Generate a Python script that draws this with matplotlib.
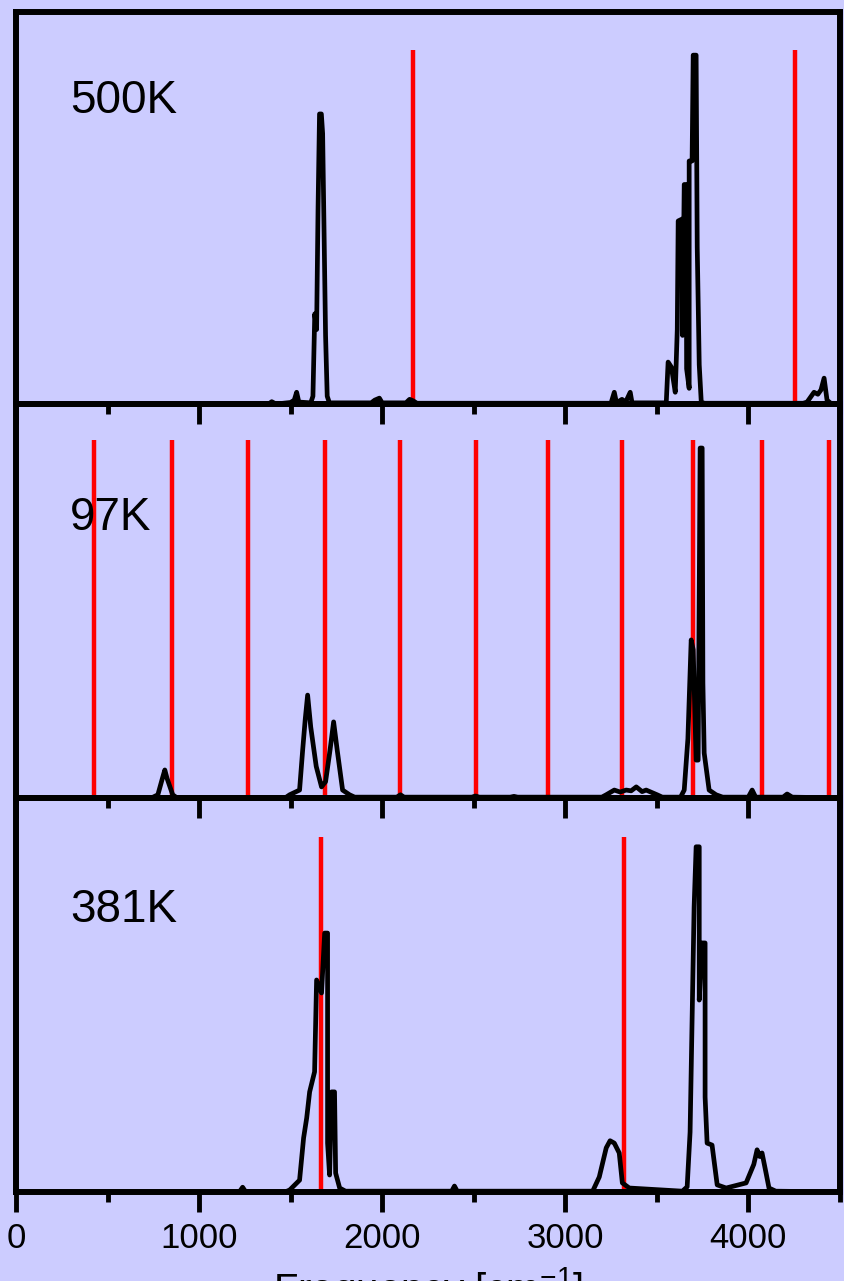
import numpy as np
import matplotlib
matplotlib.use("Agg")
import matplotlib.pyplot as plt

plt.rcParams['font.family'] = ['Liberation Sans', 'DejaVu Sans']
plt.rcParams['mathtext.default'] = 'regular'

# spectra (frequency in cm^-1, intensity as fraction of panel height)
freq_500 = [0, 1380, 1397, 1420, 1500, 1520, 1533, 1545, 1610, 1622, 1632, 1642, 1650, 1658,
            1668, 1675, 1684, 1691, 1700, 1712, 1940, 1960, 1985, 2000, 2130, 2150, 2170,
            2190, 3250, 3268, 3280, 3310, 3330, 3355, 3365, 3545, 3552, 3562, 3580, 3601,
            3612, 3617, 3639, 3641, 3650, 3661, 3663, 3677, 3677, 3693, 3699, 3715, 3721,
            3732, 3743, 3760, 4300, 4321, 4359, 4380, 4397, 4414, 4430, 4450, 4500]
inten_500 = [0, 0, 0.006, 0, 0.004, 0.01, 0.03, 0.005, 0.003, 0.02, 0.23, 0.19, 0.5, 0.74,
             0.74, 0.69, 0.4, 0.175, 0.02, 0.003, 0.003, 0.01, 0.015, 0.003, 0.003, 0.012,
             0.008, 0.002, 0.002, 0.03, 0.003, 0.012, 0.005, 0.03, 0.003, 0.003, 0.005,
             0.107, 0.094, 0.03, 0.19, 0.467, 0.472, 0.175, 0.56, 0.56, 0.09, 0.04, 0.62,
             0.62, 0.89, 0.89, 0.40, 0.10, 0.005, 0.002, 0.002, 0.005, 0.03, 0.025, 0.036,
             0.066, 0.01, 0.002, 0]
red_500 = [2171, 4255]

freq_97 = [0, 740, 775, 800, 813, 825, 856, 880, 1470, 1495, 1549, 1566, 1580, 1593, 1610,
           1640, 1669, 1680, 1691, 1715, 1735, 1755, 1784, 1822, 1850, 2080, 2100, 2120,
           2490, 2510, 2530, 2700, 2720, 2740, 3200, 3224, 3268, 3300, 3333, 3360, 3388,
           3420, 3442, 3502, 3530, 3630, 3650, 3670, 3688, 3699, 3715, 3726, 3737, 3748,
           3752, 3759, 3786, 3824, 3860, 4000, 4021, 4040, 4190, 4212, 4240, 4500]
inten_97 = [0, 0, 0.008, 0.05, 0.071, 0.05, 0.008, 0, 0, 0.008, 0.02, 0.122, 0.2, 0.261,
            0.18, 0.08, 0.028, 0.035, 0.041, 0.12, 0.193, 0.12, 0.02, 0.008, 0.002, 0.002,
            0.008, 0.002, 0.002, 0.005, 0.002, 0.002, 0.004, 0.002, 0.002, 0.008, 0.02,
            0.015, 0.02, 0.018, 0.028, 0.016, 0.02, 0.008, 0.002, 0.002, 0.02, 0.15, 0.401,
            0.376, 0.096, 0.096, 0.888, 0.888, 0.292, 0.114, 0.02, 0.008, 0.002, 0.002,
            0.02, 0.002, 0.002, 0.01, 0.002, 0]
red_97 = [425, 851, 1266, 1686, 2100, 2510, 2908, 3312, 3699, 4075, 4441]

freq_381 = [0, 1220, 1238, 1255, 1470, 1495, 1549, 1571, 1588, 1604, 1631, 1642, 1669,
            1686, 1702, 1702, 1713, 1724, 1740, 1746, 1768, 1800, 2380, 2395, 2410, 3150,
            3186, 3224, 3245, 3268, 3295, 3312, 3350, 3640, 3666, 3682, 3704, 3715, 3732,
            3732, 3748, 3764, 3764, 3775, 3802, 3830, 3879, 3988, 4030, 4048, 4062, 4075,
            4097, 4113, 4150, 4500]
inten_381 = [0, 0, 0.012, 0, 0, 0.005, 0.03, 0.137, 0.188, 0.254, 0.305, 0.538, 0.505,
             0.657, 0.657, 0.124, 0.043, 0.254, 0.254, 0.048, 0.01, 0.002, 0.002, 0.015,
             0.002, 0.002, 0.038, 0.112, 0.13, 0.124, 0.099, 0.023, 0.01, 0.002, 0.013,
             0.152, 0.723, 0.876, 0.876, 0.487, 0.632, 0.632, 0.241, 0.124, 0.119, 0.018,
             0.01, 0.023, 0.07, 0.107, 0.09, 0.099, 0.048, 0.01, 0.002, 0]
red_381 = [1664, 3322]

labels = ['500K', '97K', '381K']
red_heights = [0.903, 0.909, 0.90]
label_y = [0.742, 0.68, 0.685]

bg = '#ccccff'
fig = plt.figure(figsize=(8.45, 12.81), dpi=100, facecolor=bg)
boxes = [[0.0189, 0.6846, 0.975, 0.306],
         [0.0189, 0.3771, 0.975, 0.3076],
         [0.0189, 0.0695, 0.975, 0.3076]]
spectra = [(freq_500, inten_500, red_500), (freq_97, inten_97, red_97),
           (freq_381, inten_381, red_381)]

for i, (fx, fy, reds) in enumerate(spectra):
    ax = fig.add_axes(boxes[i])
    ax.set_facecolor('none')
    ax.vlines(reds, 0, red_heights[i], color='#ff0000', lw=3.2, zorder=2)
    ax.plot(fx, fy, color='black', lw=3.4, zorder=3, solid_joinstyle='round')
    ax.set_xlim(0, 4500)
    ax.set_ylim(0, 1)
    ax.set_yticks([])
    ax.set_xticks([0, 1000, 2000, 3000, 4000])
    ax.set_xticks([500, 1500, 2500, 3500, 4500], minor=True)
    ax.tick_params(axis='x', which='major', direction='out', length=14.5, width=3.5,
                   pad=7, labelsize=25)
    ax.tick_params(axis='x', which='minor', direction='out', length=7, width=3.5)
    if i < 2:
        ax.tick_params(axis='x', labelbottom=False)
    for sp in ax.spines.values():
        sp.set_linewidth(4.3)
    ax.text(295, label_y[i], labels[i], fontsize=33, va='baseline', ha='left')

# axis title sits mostly below the canvas, as in the original
fig.text(428 / 845, -0.0164, 'Frequency [cm$^{-1}$]', fontsize=29, ha='center',
         va='baseline')

fig.savefig('out.png', dpi=100, facecolor=bg)
